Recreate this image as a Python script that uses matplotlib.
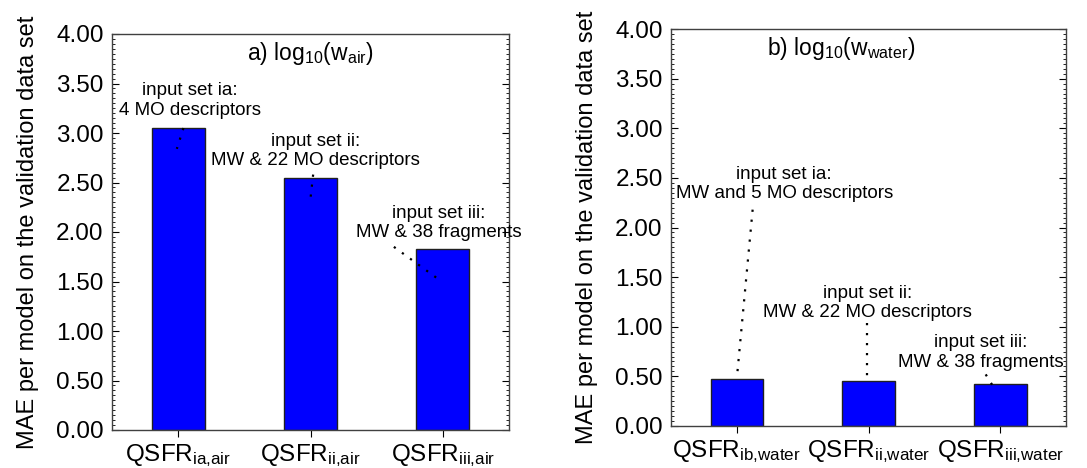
import numpy as np
import matplotlib
matplotlib.use("Agg")
import matplotlib.pyplot as plt
from matplotlib.ticker import MultipleLocator, FormatStrFormatter

plt.rcParams['font.family'] = ['Liberation Sans', 'DejaVu Sans']
plt.rcParams['mathtext.default'] = 'regular'

# Data
air_labels = ['QSFR$_{ia{,}air}$', 'QSFR$_{ii{,}air}$', 'QSFR$_{iii{,}air}$']
air_mae = [3.05, 2.55, 1.83]
water_labels = ['QSFR$_{ib{,}water}$', 'QSFR$_{ii{,}water}$', 'QSFR$_{iii{,}water}$']
water_mae = [0.47, 0.45, 0.42]

air_notes = ['input set ia:\n4 MO descriptors',
             'input set ii:\nMW & 22 MO descriptors',
             'input set iii:\nMW & 38 fragments']
water_notes = ['input set ia:\nMW and 5 MO descriptors',
               'input set ii:\nMW & 22 MO descriptors',
               'input set iii:\nMW & 38 fragments']

# note placement: text centre, dotted line start, dotted line end (data units)
air_note_pos = [((0.09, 3.33), (0.04, 3.05), (-0.01, 2.84)),
                ((1.04, 2.82), (1.02, 2.58), (1.00, 2.34)),
                ((1.97, 2.09), (1.63, 1.85), (1.97, 1.52))]
water_note_pos = [((0.36, 2.44), (0.12, 2.18), (0.00, 0.48)),
                  ((0.99, 1.24), (0.99, 1.04), (0.99, 0.44)),
                  ((1.85, 0.74), (1.89, 0.52), (1.96, 0.37))]

fig = plt.figure(figsize=(10.87, 4.68), dpi=100)
ax1 = fig.add_axes([112 / 1087, 38 / 468, 397 / 1087, 396 / 468])
ax2 = fig.add_axes([671 / 1087, 42 / 468, 395 / 1087, 397 / 468])


def draw_panel(ax, labels, values, notes, note_pos, title, title_x):
    x = np.arange(len(values))
    ax.bar(x, values, width=0.4, color='#0000ff', edgecolor='#202020', linewidth=1.0)
    ax.set_xlim(-0.5, 2.5)
    ax.set_ylim(0, 4)
    ax.set_xticks(x)
    ax.set_xticklabels(labels, fontsize=17.5)
    ax.yaxis.set_major_locator(MultipleLocator(0.5))
    ax.yaxis.set_minor_locator(MultipleLocator(0.05))
    ax.yaxis.set_major_formatter(FormatStrFormatter('%.2f'))
    ax.tick_params(axis='y', which='both', direction='in', left=True, right=True, labelsize=17.5)
    ax.tick_params(axis='y', which='major', length=5, width=0.8, pad=6)
    ax.tick_params(axis='y', which='minor', length=2.5, width=0.6)
    ax.tick_params(axis='x', direction='out', length=5, width=0.8, pad=4)
    for s in ax.spines.values():
        s.set_color('#404040')
        s.set_linewidth(1.0)
    ax.set_ylabel('MAE per model on the validation data set', fontsize=17, labelpad=12)
    ax.text(title_x, 0.95, title, transform=ax.transAxes, ha='center', va='center', fontsize=16.5)
    for note, (txt, p0, p1) in zip(notes, note_pos):
        ax.text(txt[0], txt[1], note, ha='center', va='center', fontsize=13.5, linespacing=1.2)
        ax.plot([p0[0], p1[0]], [p0[1], p1[1]], color='black', linewidth=1.6,
                linestyle=(0, (1, 3.5)))


draw_panel(ax1, air_labels, air_mae, air_notes, air_note_pos,
           'a) log$_{10}$(w$_{air}$)', 0.5)
draw_panel(ax2, water_labels, water_mae, water_notes, water_note_pos,
           'b) log$_{10}$(w$_{water}$)', 0.43)

fig.savefig('out.png', dpi=100)
